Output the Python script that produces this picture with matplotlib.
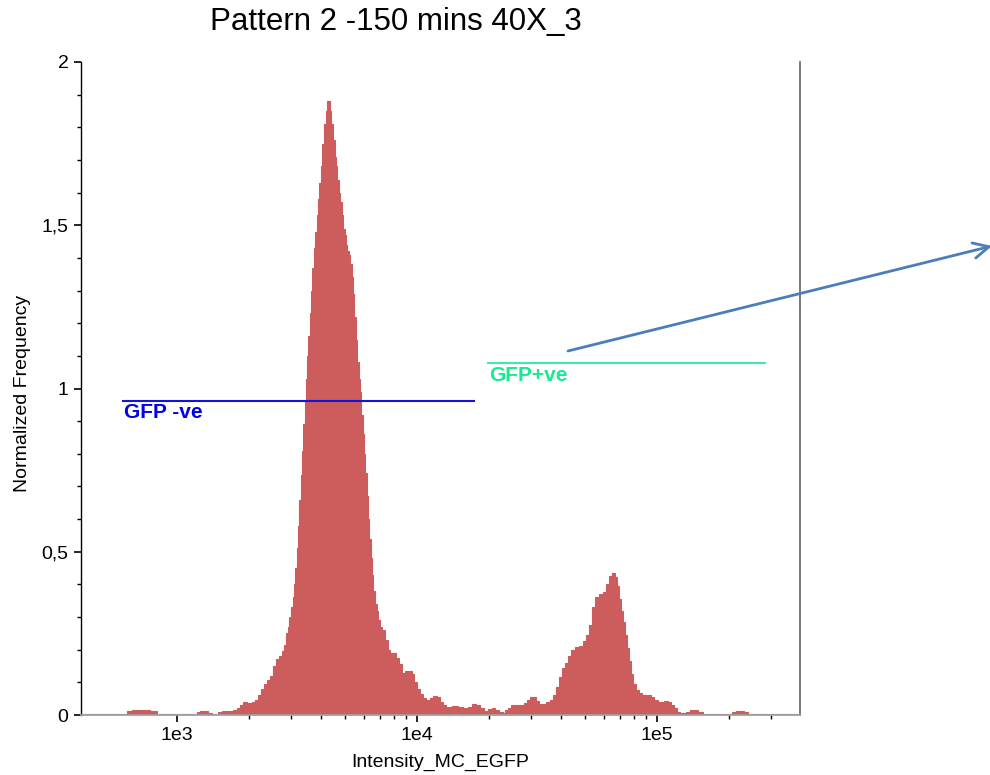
import numpy as np
import matplotlib
matplotlib.use("Agg")
import matplotlib.pyplot as plt
from matplotlib.ticker import FixedLocator, NullFormatter

plt.rcParams['font.family'] = ['Liberation Sans', 'DejaVu Sans']

# log10(intensity) where each histogram bin starts (last value = end of last bin)
log_edges = [
    2.600, 2.792, 2.813, 2.888, 2.917, 3.083, 3.096, 3.129, 3.146, 3.171,
    3.188, 3.233, 3.250, 3.263, 3.275, 3.292, 3.313, 3.325, 3.338, 3.350,
    3.363, 3.375, 3.388, 3.400, 3.413, 3.425, 3.438, 3.446, 3.454, 3.463,
    3.468, 3.475, 3.482, 3.488, 3.493, 3.499, 3.504, 3.510, 3.515, 3.521,
    3.526, 3.532, 3.536, 3.542, 3.546, 3.554, 3.558, 3.563, 3.571, 3.575,
    3.583, 3.588, 3.592, 3.600, 3.604, 3.613, 3.621, 3.627, 3.638, 3.642,
    3.650, 3.658, 3.663, 3.667, 3.675, 3.679, 3.688, 3.692, 3.700, 3.704,
    3.708, 3.717, 3.721, 3.729, 3.733, 3.738, 3.746, 3.750, 3.758, 3.763,
    3.768, 3.774, 3.779, 3.785, 3.790, 3.796, 3.801, 3.807, 3.813, 3.818,
    3.825, 3.832, 3.839, 3.846, 3.854, 3.867, 3.879, 3.888, 3.913, 3.925,
    3.938, 3.950, 3.964, 3.978, 3.988, 4.000, 4.013, 4.025, 4.038, 4.054,
    4.067, 4.083, 4.096, 4.108, 4.121, 4.146, 4.171, 4.192, 4.213, 4.229,
    4.246, 4.263, 4.279, 4.296, 4.313, 4.325, 4.342, 4.358, 4.367, 4.379,
    4.392, 4.421, 4.446, 4.458, 4.471, 4.483, 4.496, 4.508, 4.521, 4.538,
    4.554, 4.567, 4.579, 4.592, 4.604, 4.617, 4.629, 4.642, 4.658, 4.675,
    4.692, 4.704, 4.717, 4.729, 4.742, 4.758, 4.775, 4.788, 4.800, 4.813,
    4.825, 4.833, 4.842, 4.850, 4.858, 4.867, 4.875, 4.883, 4.892, 4.900,
    4.913, 4.925, 4.938, 4.950, 4.963, 4.975, 4.988, 5.004, 5.029, 5.046,
    5.058, 5.071, 5.083, 5.096, 5.121, 5.138, 5.171, 5.192, 5.313, 5.329,
    5.363, 5.379, 5.596,
]

# normalized frequency of each bin
freq = [
    0.004, 0.012, 0.016, 0.012, 0.004, 0.010, 0.012, 0.005, 0.004, 0.009,
    0.012, 0.015, 0.022, 0.032, 0.040, 0.038, 0.040, 0.046, 0.060, 0.080,
    0.095, 0.108, 0.120, 0.150, 0.170, 0.182, 0.195, 0.215, 0.250, 0.270,
    0.300, 0.330, 0.360, 0.400, 0.450, 0.510, 0.580, 0.660, 0.735, 0.810,
    0.890, 0.965, 1.030, 1.100, 1.160, 1.230, 1.300, 1.370, 1.430, 1.480,
    1.530, 1.580, 1.630, 1.680, 1.750, 1.810, 1.850, 1.880, 1.850, 1.810,
    1.760, 1.710, 1.680, 1.640, 1.600, 1.570, 1.530, 1.490, 1.470, 1.440,
    1.420, 1.410, 1.380, 1.340, 1.290, 1.220, 1.150, 1.080, 1.030, 0.990,
    0.920, 0.860, 0.800, 0.740, 0.670, 0.600, 0.540, 0.480, 0.430, 0.380,
    0.340, 0.320, 0.290, 0.270, 0.260, 0.230, 0.200, 0.190, 0.175, 0.155,
    0.130, 0.135, 0.136, 0.125, 0.100, 0.080, 0.065, 0.052, 0.046, 0.052,
    0.059, 0.055, 0.040, 0.030, 0.025, 0.028, 0.026, 0.020, 0.026, 0.034,
    0.031, 0.022, 0.013, 0.018, 0.022, 0.015, 0.008, 0.006, 0.015, 0.022,
    0.030, 0.032, 0.036, 0.046, 0.056, 0.054, 0.044, 0.034, 0.034, 0.040,
    0.046, 0.060, 0.085, 0.115, 0.145, 0.160, 0.180, 0.198, 0.207, 0.212,
    0.228, 0.245, 0.275, 0.330, 0.360, 0.370, 0.378, 0.400, 0.425, 0.434,
    0.424, 0.395, 0.355, 0.320, 0.285, 0.245, 0.205, 0.165, 0.125, 0.095,
    0.078, 0.066, 0.060, 0.062, 0.062, 0.056, 0.045, 0.041, 0.043, 0.040,
    0.030, 0.020, 0.010, 0.005, 0.010, 0.014, 0.010, 0.004, 0.010, 0.013,
    0.010, 0.004,
]

# gates: (x start, x end, level)
gate_neg = (590, 17460, 0.962)
gate_pos = (19580, 284600, 1.078)

x_major = [1e3, 1e4, 1e5]
x_major_labels = ['1e3', '1e4', '1e5']
y_major = [0, 0.5, 1, 1.5, 2]
y_major_labels = ['0', '0,5', '1', '1,5', '2']

fig = plt.figure(figsize=(9.9, 7.75), dpi=100)
ax = fig.add_axes([81/990, 60/775, 719/990, 653/775])

# histogram bars; thin edge of the same colour hides seams
edges = 10 ** np.array(log_edges)
ax.bar(edges[:-1], freq, width=np.diff(edges), align='edge',
       color='indianred', edgecolor='indianred', linewidth=0.8, zorder=2)

ax.set_xscale('log')
ax.set_xlim(10 ** 2.6, 10 ** 5.596)
ax.set_ylim(0, 2)

ax.xaxis.set_major_locator(FixedLocator(x_major))
ax.set_xticklabels(x_major_labels)
minors = [m * d for d in (1e3, 1e4, 1e5) for m in range(2, 10) if m * d < 10 ** 5.596]
ax.xaxis.set_minor_locator(FixedLocator(minors))
ax.xaxis.set_minor_formatter(NullFormatter())
ax.set_yticks(y_major, y_major_labels)
ax.set_yticks(np.arange(0.1, 2.0, 0.1), minor=True)

ax.tick_params(axis='both', which='major', direction='out', length=5, width=1.2,
               labelsize=14, pad=4)
ax.tick_params(axis='both', which='minor', direction='out', length=3, width=1.0)

ax.spines['top'].set_visible(False)
ax.spines['right'].set_color('#6e6e6e')
ax.spines['right'].set_linewidth(1.3)
ax.spines['bottom'].set_color('#a0a0a0')
ax.spines['bottom'].set_linewidth(1.3)
ax.spines['left'].set_color('black')
ax.spines['left'].set_linewidth(1.0)

ax.set_xlabel('Intensity_MC_EGFP', fontsize=14)
ax.set_ylabel('Normalized Frequency', fontsize=14)
ax.xaxis.set_label_coords(0.5, -0.06)
ax.yaxis.set_label_coords(-0.07, 0.493)

# gates
ax.hlines(gate_neg[2], gate_neg[0], gate_neg[1], color='#1414d8', lw=1.5, zorder=3)
ax.text(601, 0.928, 'GFP -ve', color='#0000f0', fontsize=15, fontweight='bold',
        va='center', ha='left', zorder=3)
ax.hlines(gate_pos[2], gate_pos[0], gate_pos[1], color='#40e8b0', lw=1.5, zorder=3)
ax.text(19950, 1.041, 'GFP+ve', color='#19ea90', fontsize=15, fontweight='bold',
        va='center', ha='left', zorder=3)

fig.text(396/990, 1 - 22/775, 'Pattern 2 -150 mins 40X_3', fontsize=22.5,
         ha='center', va='center')

# arrow leaving the plot
ax.annotate('', xy=(992, 775 - 246), xycoords='figure pixels',
            xytext=(568, 775 - 351), textcoords='figure pixels',
            arrowprops=dict(arrowstyle='->', color='#4a7ebb', lw=2.0,
                            mutation_scale=28, shrinkA=0, shrinkB=0),
            annotation_clip=False)

plt.savefig('out.png', dpi=100)
